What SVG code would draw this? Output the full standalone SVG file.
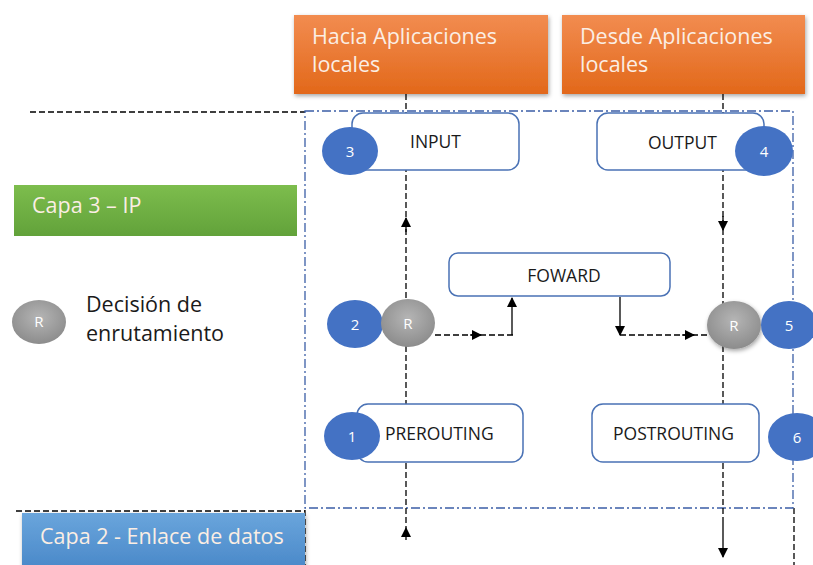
<svg xmlns="http://www.w3.org/2000/svg" width="813" height="565" viewBox="0 0 813 565">
<defs>
<linearGradient id="gOr" x1="0" y1="0" x2="0" y2="1"><stop offset="0" stop-color="#f28c50"/><stop offset="1" stop-color="#e2681a"/></linearGradient>
<linearGradient id="gGr" x1="0" y1="0" x2="0" y2="1"><stop offset="0" stop-color="#7dbd4d"/><stop offset="1" stop-color="#62a23a"/></linearGradient>
<linearGradient id="gBl" x1="0" y1="0" x2="0" y2="1"><stop offset="0" stop-color="#6aa5dc"/><stop offset="1" stop-color="#4a89c9"/></linearGradient>
<radialGradient id="gR" cx="0.5" cy="0.4" r="0.6"><stop offset="0" stop-color="#b5b5b5"/><stop offset="1" stop-color="#8c8c8c"/></radialGradient>
<filter id="sh" x="-10%" y="-10%" width="130%" height="140%"><feDropShadow dx="1" dy="2" stdDeviation="2" flood-color="#000" flood-opacity="0.35"/></filter>
<marker id="ah" viewBox="0 0 10 10" refX="9" refY="5" markerWidth="10" markerHeight="10" markerUnits="userSpaceOnUse" orient="auto"><path d="M0,0 L10,5 L0,10 z" fill="#000"/></marker>
</defs>
<style>
.box{fill:#fff;stroke:#4a72b5;stroke-width:1.5}
.num{fill:#4472c4}
.lbl{font-family:"Open Sans","Liberation Sans",sans-serif;font-size:17.5px;fill:#1a1a1a}
.nt{font-family:"Open Sans","Liberation Sans",sans-serif;font-size:15px;fill:#fff;text-anchor:middle}
.big{font-family:"Open Sans","Liberation Sans",sans-serif;font-size:21.5px;fill:#fbeee4}
.leg{font-family:"Open Sans","Liberation Sans",sans-serif;font-size:21.5px;fill:#1a1a1a}
.dash{fill:none;stroke:#000;stroke-width:1.3;stroke-dasharray:6 3}
.bd{fill:none;stroke:#3b5ea6;stroke-width:1.3;stroke-dasharray:9 3 2 3}
.sol{fill:none;stroke:#000;stroke-width:1.3}
</style>
<g id="layers">
<line class="dash" x1="30" y1="112" x2="305" y2="112"/>
<line class="dash" x1="16" y1="511" x2="305" y2="511"/>
<line class="dash" x1="305" y1="510" x2="305" y2="565"/>
<line class="dash" x1="794" y1="508" x2="794" y2="565"/>
<rect class="bd" x="305" y="111" width="488" height="397"/>
</g>
<g id="capa3"><rect x="14" y="185" width="283" height="51" fill="url(#gGr)"/><text class="big" x="32" y="213" fill="#fff">Capa 3 – IP</text></g>
<g id="capa2"><rect x="22" y="513" width="283" height="55" fill="url(#gBl)" filter="url(#sh)"/><text class="big" x="40" y="544">Capa 2 - Enlace de datos</text></g>
<g id="legend"><ellipse cx="39" cy="322" rx="27" ry="22" fill="url(#gR)"/><text class="nt" x="39" y="327" font-size="14">R</text><text class="leg" x="86" y="312">Decisión de</text><text class="leg" x="86" y="341">enrutamiento</text></g>
<g id="hacia"><rect x="294" y="15" width="254" height="79" fill="url(#gOr)" filter="url(#sh)"/><text class="big" x="312" y="44">Hacia Aplicaciones</text><text class="big" x="312" y="72">locales</text></g>
<g id="desde"><rect x="562" y="15" width="243" height="79" fill="url(#gOr)" filter="url(#sh)"/><text class="big" x="580" y="44">Desde Aplicaciones</text><text class="big" x="580" y="72">locales</text></g>
<g id="connectors">
<line class="dash" x1="406" y1="94" x2="406" y2="528"/>
<line class="sol" x1="406" y1="540" x2="406" y2="528" marker-end="url(#ah)"/>
<line class="sol" x1="406" y1="232" x2="406" y2="218" marker-end="url(#ah)"/>
<line class="dash" x1="723" y1="94" x2="723" y2="518"/>
<line class="sol" x1="723" y1="216" x2="723" y2="230" marker-end="url(#ah)"/>
<line class="sol" x1="723" y1="518" x2="723" y2="557" marker-end="url(#ah)"/>
<path class="dash" d="M435,335 H513"/>
<line class="sol" x1="470" y1="335" x2="481" y2="335" marker-end="url(#ah)"/>
<line class="sol" x1="512" y1="335" x2="512" y2="298" marker-end="url(#ah)"/>
<line class="sol" x1="620" y1="297" x2="620" y2="335" marker-end="url(#ah)"/>
<path class="dash" d="M620,335 H707"/>
<line class="sol" x1="682" y1="335" x2="694" y2="335" marker-end="url(#ah)"/>
</g>
<g id="input"><rect class="box" x="352" y="113" width="167" height="57" rx="11"/><text class="lbl" x="410" y="148">INPUT</text></g>
<g id="n3"><ellipse class="num" cx="350" cy="151" rx="28" ry="24"/><text class="nt" x="350" y="157">3</text></g>
<g id="output"><rect class="box" x="597" y="113" width="167" height="57" rx="11"/><text class="lbl" x="648" y="149">OUTPUT</text></g>
<g id="n4"><ellipse class="num" cx="764" cy="151" rx="29" ry="25"/><text class="nt" x="764" y="157">4</text></g>
<g id="foward"><rect class="box" x="449" y="253" width="221" height="43" rx="9"/><text class="lbl" x="564" y="282" text-anchor="middle">FOWARD</text></g>
<g id="n2"><ellipse class="num" cx="355" cy="324" rx="28" ry="24"/><text class="nt" x="355" y="330">2</text></g>
<g id="r1"><ellipse cx="408" cy="323" rx="27" ry="24" fill="url(#gR)"/><text class="nt" x="408" y="329" font-size="14">R</text></g>
<g id="r2"><ellipse cx="734" cy="325" rx="27" ry="24" fill="url(#gR)" filter="url(#sh)"/><text class="nt" x="734" y="331" font-size="14">R</text></g>
<g id="n5"><ellipse class="num" cx="789" cy="325" rx="28" ry="24"/><text class="nt" x="789" y="331">5</text></g>
<g id="prerouting"><rect class="box" x="357" y="404" width="166" height="58" rx="11"/><text class="lbl" x="385" y="440">PREROUTING</text></g>
<g id="n1"><ellipse class="num" cx="352" cy="436" rx="28" ry="24"/><text class="nt" x="352" y="442">1</text></g>
<g id="postrouting"><rect class="box" x="592" y="404" width="167" height="58" rx="11"/><text class="lbl" x="613" y="440">POSTROUTING</text></g>
<g id="n6"><ellipse class="num" cx="797" cy="437" rx="29" ry="24"/><text class="nt" x="797" y="443">6</text></g>
</svg>
